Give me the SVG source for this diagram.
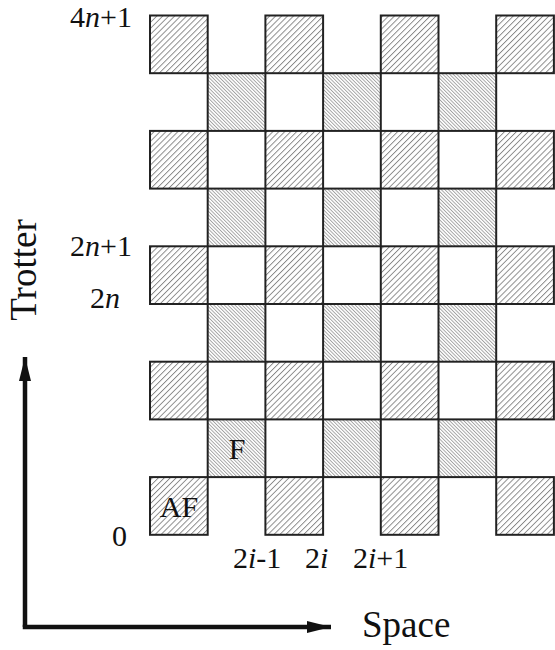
<svg xmlns="http://www.w3.org/2000/svg" width="555" height="650" viewBox="0 0 555 650">
<style>
.t{font-family:"Liberation Serif","Times New Roman",serif;fill:#111}
.af{fill:url(#hAF);stroke:#222;stroke-width:2}
.f{fill:url(#hF);stroke:#222;stroke-width:2}
.ax{fill:none;stroke:#111;stroke-width:4.5}
</style>
<defs>
<pattern id="hAF" patternUnits="userSpaceOnUse" width="4.2" height="10" patternTransform="rotate(45)">
<rect width="4.2" height="10" fill="#fff"/>
<line x1="0.5" y1="0" x2="0.5" y2="10" stroke="#666" stroke-width="0.8"/>
</pattern>
<pattern id="hF" patternUnits="userSpaceOnUse" width="2.5" height="10" patternTransform="rotate(-45)">
<rect width="2.5" height="10" fill="#fff"/>
<line x1="0.5" y1="0" x2="0.5" y2="10" stroke="#777" stroke-width="0.7"/>
</pattern>
<marker id="ah" viewBox="0 0 24 12" refX="24" refY="6" markerWidth="24" markerHeight="12" markerUnits="userSpaceOnUse" orient="auto">
<path d="M0,0 L24,6 L0,12 Z" fill="#111"/>
</marker>
</defs>
<g id="grid">
<g id="row0"><rect class="af" x="150" y="15.5" width="57.7" height="57.7"/><rect class="af" x="265.4" y="15.5" width="57.7" height="57.7"/><rect class="af" x="380.8" y="15.5" width="57.7" height="57.7"/><rect class="af" x="496.2" y="15.5" width="57.7" height="57.7"/></g>
<g id="row2"><rect class="af" x="150" y="130.9" width="57.7" height="57.7"/><rect class="af" x="265.4" y="130.9" width="57.7" height="57.7"/><rect class="af" x="380.8" y="130.9" width="57.7" height="57.7"/><rect class="af" x="496.2" y="130.9" width="57.7" height="57.7"/></g>
<g id="row4"><rect class="af" x="150" y="246.3" width="57.7" height="57.7"/><rect class="af" x="265.4" y="246.3" width="57.7" height="57.7"/><rect class="af" x="380.8" y="246.3" width="57.7" height="57.7"/><rect class="af" x="496.2" y="246.3" width="57.7" height="57.7"/></g>
<g id="row6"><rect class="af" x="150" y="361.7" width="57.7" height="57.7"/><rect class="af" x="265.4" y="361.7" width="57.7" height="57.7"/><rect class="af" x="380.8" y="361.7" width="57.7" height="57.7"/><rect class="af" x="496.2" y="361.7" width="57.7" height="57.7"/></g>
<g id="row8"><rect class="af" x="150" y="477.1" width="57.7" height="57.7"/><rect class="af" x="265.4" y="477.1" width="57.7" height="57.7"/><rect class="af" x="380.8" y="477.1" width="57.7" height="57.7"/><rect class="af" x="496.2" y="477.1" width="57.7" height="57.7"/></g>
<g id="row1"><rect class="f" x="207.7" y="73.2" width="57.7" height="57.7"/><rect class="f" x="323.1" y="73.2" width="57.7" height="57.7"/><rect class="f" x="438.5" y="73.2" width="57.7" height="57.7"/></g>
<g id="row3"><rect class="f" x="207.7" y="188.6" width="57.7" height="57.7"/><rect class="f" x="323.1" y="188.6" width="57.7" height="57.7"/><rect class="f" x="438.5" y="188.6" width="57.7" height="57.7"/></g>
<g id="row5"><rect class="f" x="207.7" y="304" width="57.7" height="57.7"/><rect class="f" x="323.1" y="304" width="57.7" height="57.7"/><rect class="f" x="438.5" y="304" width="57.7" height="57.7"/></g>
<g id="row7"><rect class="f" x="207.7" y="419.4" width="57.7" height="57.7"/><rect class="f" x="323.1" y="419.4" width="57.7" height="57.7"/><rect class="f" x="438.5" y="419.4" width="57.7" height="57.7"/></g>
</g>
<g id="cell-labels">
<text class="t" x="179" y="517" font-size="30" text-anchor="middle">AF</text>
<text class="t" x="237" y="459" font-size="30" text-anchor="middle">F</text>
</g>
<g id="axes">
<path class="ax" d="M25,627 L25,357" marker-end="url(#ah)"/>
<path class="ax" d="M22.75,627 L331,627" marker-end="url(#ah)"/>
</g>
<g id="axis-labels">
<text class="t" x="36" y="270" font-size="37" text-anchor="middle" transform="rotate(-90 36 270)">Trotter</text>
<text class="t" x="362" y="637" font-size="37">Space</text>
<text class="t" x="132" y="27" font-size="30" text-anchor="end">4<tspan font-style="italic">n</tspan>+1</text>
<text class="t" x="132" y="256" font-size="30" text-anchor="end">2<tspan font-style="italic">n</tspan>+1</text>
<text class="t" x="120" y="308" font-size="30" text-anchor="end">2<tspan font-style="italic">n</tspan></text>
<text class="t" x="127" y="546" font-size="30" text-anchor="end">0</text>
<text class="t" x="233" y="568" font-size="30">2<tspan font-style="italic">i</tspan>-1</text>
<text class="t" x="305" y="568" font-size="30">2<tspan font-style="italic">i</tspan></text>
<text class="t" x="353" y="568" font-size="30">2<tspan font-style="italic">i</tspan>+1</text>
</g>
</svg>
